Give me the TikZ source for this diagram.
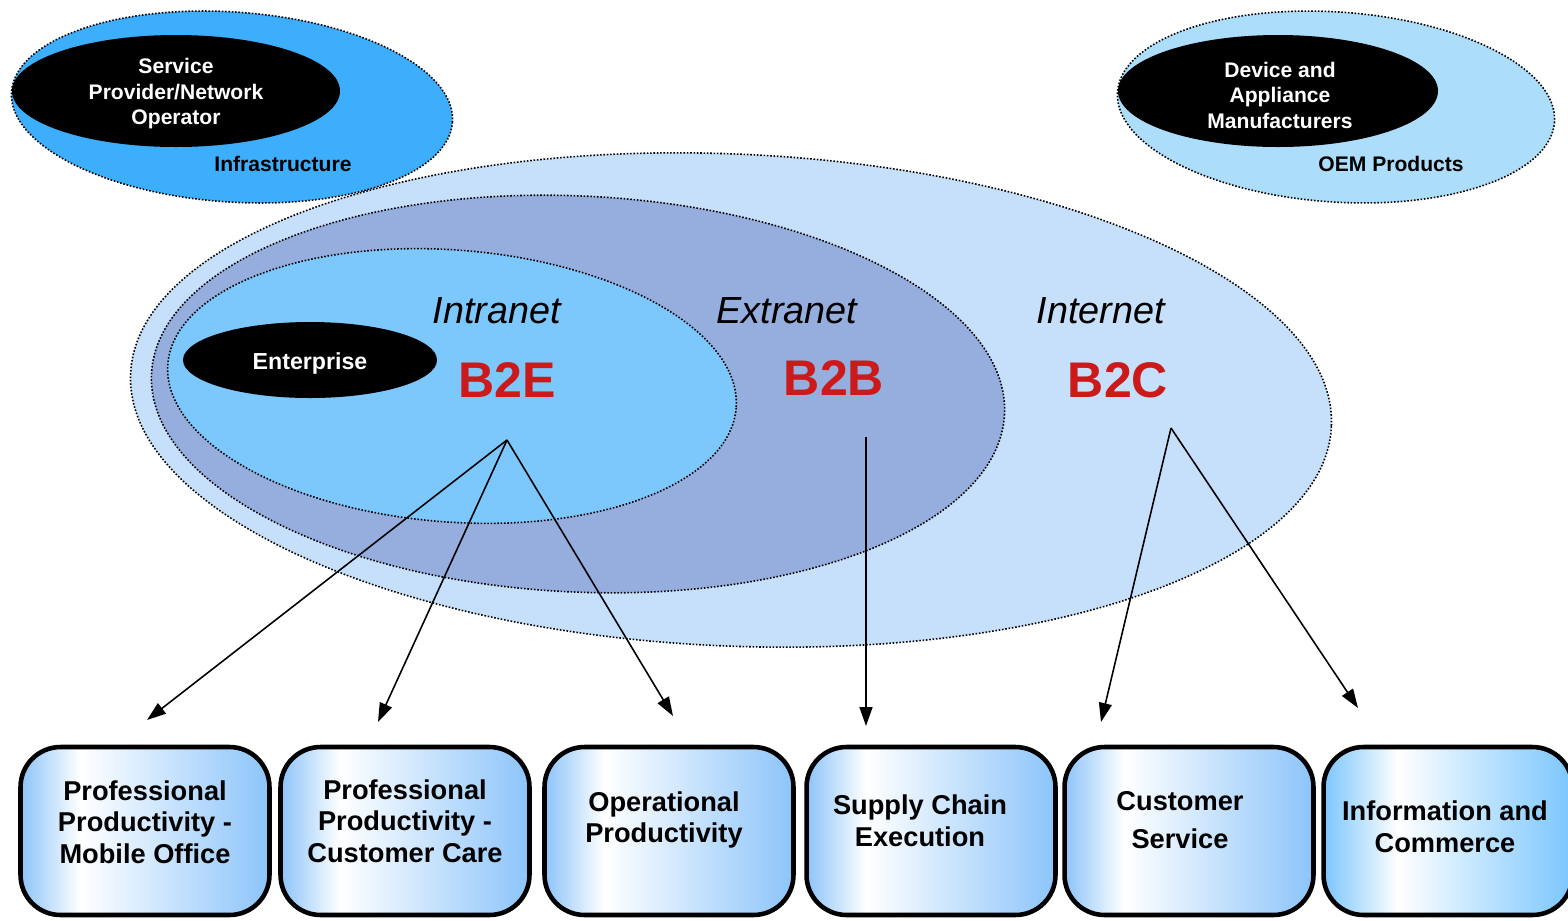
\documentclass[tikz,border=0pt]{standalone}
\usepackage{fontspec}
\setmainfont{Liberation Sans}
\usetikzlibrary{arrows.meta}
\definecolor{infrablau}{RGB}{60,174,251}
\definecolor{oemblau}{RGB}{172,221,251}
\definecolor{netblau}{RGB}{198,224,251}
\definecolor{extblau}{RGB}{150,174,222}
\definecolor{intblau}{RGB}{124,200,252}
\definecolor{boxblau}{RGB}{140,196,250}
\definecolor{boxblaub}{RGB}{122,198,252}
\definecolor{brot}{RGB}{204,26,26}
\pgfdeclarehorizontalshading{boxverlauf}{100bp}{color(0bp)=(boxblau); color(25bp)=(boxblau); color(37bp)=(white); color(75bp)=(boxblau); color(100bp)=(boxblau)}
\pgfdeclarehorizontalshading{boxverlaufb}{100bp}{color(0bp)=(boxblaub); color(25bp)=(boxblaub); color(40bp)=(white); color(75bp)=(boxblaub); color(100bp)=(boxblaub)}
\tikzset{
	bereich/.style={draw,densely dotted,line width=0.9pt},
	feld/.style={draw,line width=2.6pt,rounded corners=0.8cm,minimum width=4.98cm,minimum height=3.36cm,shade,shading=boxverlauf},
	feldtext/.style={align=center,font=\fontsize{15.5}{18}\selectfont\bfseries},
	kerntext/.style={align=center,text=white,font=\fontsize{12}{14.5}\selectfont\bfseries},
	randtext/.style={font=\fontsize{12}{14}\selectfont\bfseries},
	netztext/.style={font=\fontsize{21.5}{24}\selectfont\itshape},
	geschaeft/.style={text=brot,font=\fontsize{28.5}{30}\selectfont\bfseries}
}

\begin{document}
\begin{tikzpicture}[x=0.02cm,y=-0.02cm,>={Triangle[length=3.8mm,width=2.6mm]},line width=0.9pt]
\def\kante#1#2{
	\draw[->] #1 -- #2;
}
\useasboundingbox (0,0) rectangle (1568,920);
\draw[bereich,fill=netblau,rotate around={-2.5:(731,400)}] (731,400) ellipse [x radius=601,y radius=246];
\draw[bereich,fill=extblau,rotate around={-2.7:(578,394)}] (578,394) ellipse [x radius=427,y radius=198];
\draw[bereich,fill=intblau,rotate around={-4.4:(452,386)}] (452,386) ellipse [x radius=285,y radius=136];
\fill (310,360) ellipse [x radius=127,y radius=38];
\draw[bereich,fill=infrablau,rotate around={-3.9:(232,107)}] (232,107) ellipse [x radius=221,y radius=95];
\fill (176,91) ellipse [x radius=164,y radius=56];
\draw[bereich,fill=oemblau,rotate around={-3.9:(1336,107)}] (1336,107) ellipse [x radius=219,y radius=95];
\fill (1278,91) ellipse [x radius=160,y radius=56];
\coordinate (k1) at (145,831);
\coordinate (k2) at (405,831);
\coordinate (k3) at (669,831);
\coordinate (k4) at (931,831);
\coordinate (k5) at (1189,831);
\coordinate (k6) at (1448,831);
\coordinate (b2e) at (507,440);
\coordinate (b2b) at (866,437);
\coordinate (b2c) at (1171,428);
\coordinate (z1) at (147,720);
\coordinate (z2) at (378,722);
\coordinate (z3) at (673,716);
\coordinate (z4) at (866,726);
\coordinate (z5) at (1101,722);
\coordinate (z6) at (1358,708);
\node[kerntext] (spno) at (176,94) {Service\\Provider/Network\\Operator};
\node[randtext] (infra) at (283,164) {Infrastructure};
\node[kerntext] (geraete) at (1280,95) {Device and\\Appliance\\Manufacturers};
\node[randtext] (oem) at (1391,164) {OEM Products};
\node[kerntext,font=\fontsize{13.2}{15}\selectfont\bfseries] (ent) at (310,363) {Enterprise};
\node[netztext] (intra) at (497,311) {Intranet};
\node[netztext] (extra) at (787,311) {Extranet};
\node[netztext] (inter) at (1101,311) {Internet};
\node[geschaeft] (b2e text) at (507,380) {B2E};
\node[geschaeft] (b2b text) at (834,378) {B2B};
\node[geschaeft] (b2c text) at (1118,380) {B2C};
\node[feld] (mobil) at (k1) {};
\node[feld] (pflege) at (k2) {};
\node[feld] (betrieb) at (k3) {};
\node[feld] (lieferung) at (k4) {};
\node[feld] (kunde) at (k5) {};
\node[feld,shading=boxverlaufb] (handel) at (k6) {};
\node[feldtext] (mobil text) at (145,822) {Professional\\Productivity -\\Mobile Office};
\node[feldtext] (pflege text) at (405,821) {Professional\\Productivity -\\Customer Care};
\node[feldtext] (betrieb text) at (664,820) {Operational\\Productivity};
\node[feldtext] (lieferung text) at (920,821) {Supply Chain\\Execution};
\node[feldtext,font=\fontsize{15.5}{21.5}\selectfont\bfseries] (kunde text) at (1180,820) {Customer\\Service};
\node[feldtext] (handel text) at (1445,827) {Information and\\Commerce};
\kante{(b2e)}{(z1)}
\kante{(b2e)}{(z2)}
\kante{(b2e)}{(z3)}
\kante{(b2b)}{(z4)}
\kante{(b2c)}{(z5)}
\kante{(b2c)}{(z6)}
\end{tikzpicture}
\end{document}
